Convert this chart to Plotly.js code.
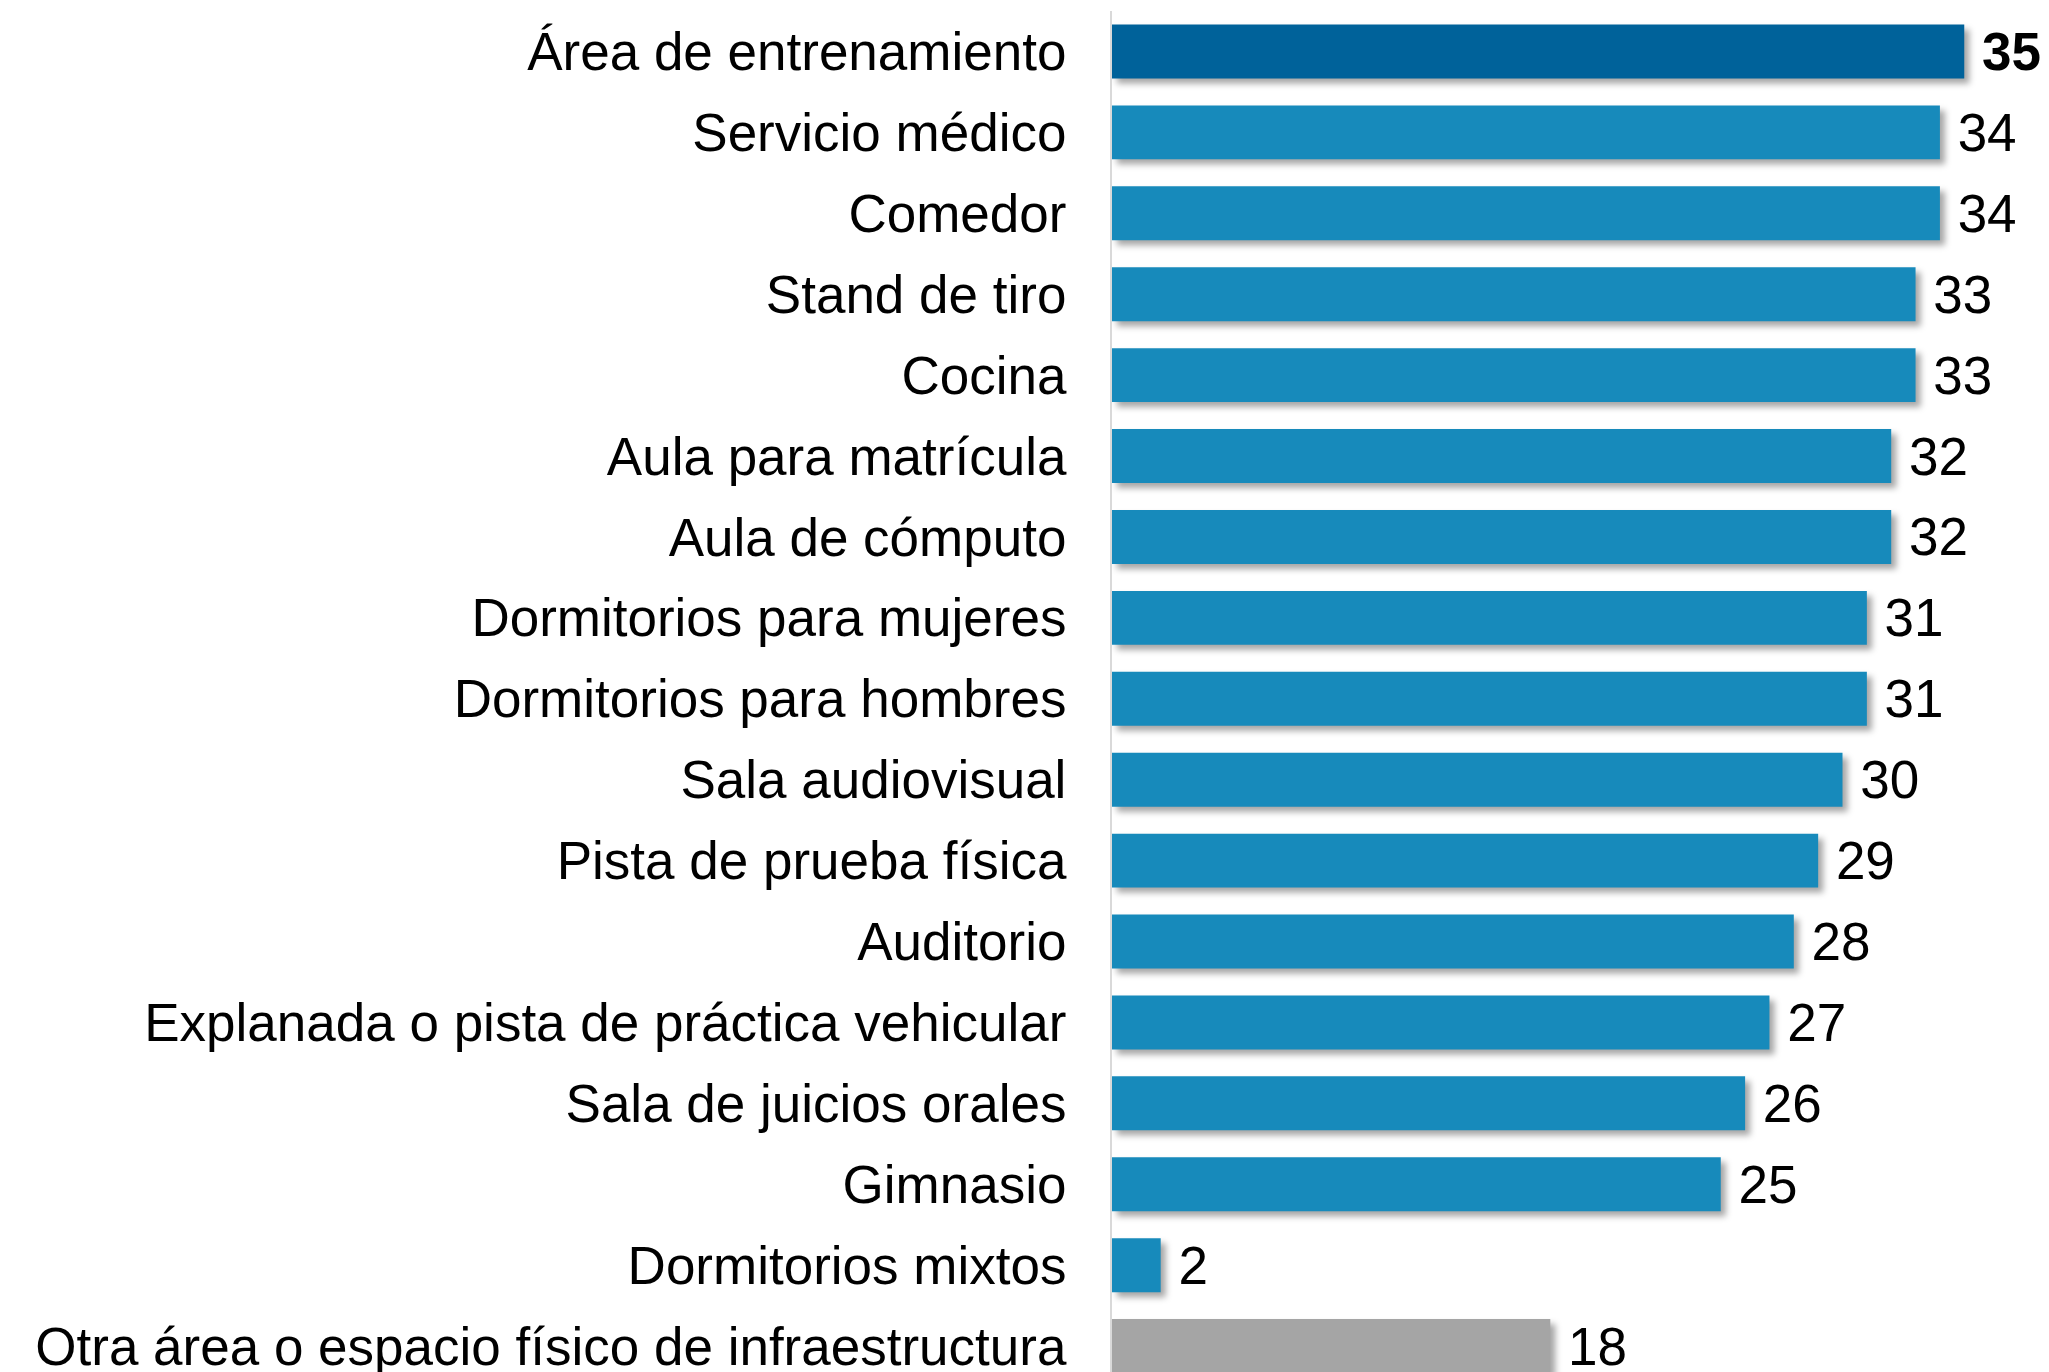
<!DOCTYPE html>
<html>
<head>
<meta charset="utf-8">
<script src="https://cdn.plot.ly/plotly-3.0.1.min.js"></script>
<style>
  html, body { margin: 0; padding: 0; background: #ffffff; }
  #chart { width: 2049px; height: 1372px; }
  .trace.bars .point path { filter: drop-shadow(5px 5px 3px rgba(0,0,0,0.35)); }
</style>
</head>
<body>
<div id="chart"></div>
<script>
const categories = [
  "Área de entrenamiento",
  "Servicio médico",
  "Comedor",
  "Stand de tiro",
  "Cocina",
  "Aula para matrícula",
  "Aula de cómputo",
  "Dormitorios para mujeres",
  "Dormitorios para hombres",
  "Sala audiovisual",
  "Pista de prueba física",
  "Auditorio",
  "Explanada o pista de práctica vehicular",
  "Sala de juicios orales",
  "Gimnasio",
  "Dormitorios mixtos",
  "Otra área o espacio físico de infraestructura"
];
const values = [35, 34, 34, 33, 33, 32, 32, 31, 31, 30, 29, 28, 27, 26, 25, 2, 18];
const highlightColor = "#00629A";
const barColor = "#178ABB";
const otherColor = "#A5A5A5";

const colors = values.map((v, i) =>
  i === 0 ? highlightColor : (i === values.length - 1 ? otherColor : barColor));
const labels = values.map((v, i) =>
  i === 0 ? "\u00a0<b>" + v + "</b>" : "\u00a0" + v);

const trace = {
  type: "bar",
  orientation: "h",
  y: categories,
  x: values,
  marker: { color: colors, line: { width: 0 } },
  text: labels,
  textposition: "outside",
  constraintext: "none",
  textfont: { family: "Liberation Sans, Arial, sans-serif", size: 53, color: "#000000" },
  cliponaxis: false,
  hoverinfo: "none"
};

const layout = {
  width: 2049,
  height: 1372,
  margin: { l: 1112, r: 0, t: 11, b: 0, pad: 0 },
  paper_bgcolor: "#ffffff",
  plot_bgcolor: "#ffffff",
  showlegend: false,
  bargap: 0.333,
  font: { family: "Liberation Sans, Arial, sans-serif", size: 53, color: "#000000" },
  xaxis: {
    range: [0, 38.48],
    showgrid: false,
    zeroline: false,
    showline: false,
    showticklabels: false,
    ticks: ""
  },
  yaxis: {
    type: "category",
    range: [16.32, -0.5],
    showgrid: false,
    zeroline: false,
    showline: true,
    linecolor: "#D9D9D9",
    linewidth: 2,
    ticks: "",
    ticklabelstandoff: 33,
    tickfont: { family: "Liberation Sans, Arial, sans-serif", size: 53, color: "#000000" },
    automargin: false
  }
};

Plotly.newPlot("chart", [trace], layout, { displayModeBar: false, staticPlot: true });
</script>
</body>
</html>
